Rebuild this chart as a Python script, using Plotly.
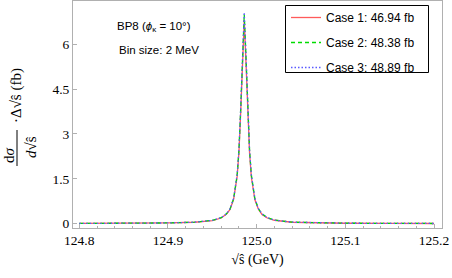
import plotly.graph_objects as go

# sqrt(s-hat) in GeV
x_vals = [124.800, 124.850, 124.900, 124.930, 124.950, 124.960, 124.966, 124.970,
          124.974, 124.978, 124.980, 124.982, 124.984, 124.986, 124.988, 124.990,
          124.992, 124.994, 124.998, 125.002, 125.006, 125.012, 125.020, 125.040,
          125.070, 125.100, 125.150, 125.200]

case1 = [0.008, 0.011, 0.024, 0.048, 0.105, 0.19, 0.32, 0.48, 0.81, 1.58, 2.38, 3.72,
         5.38, 6.80, 5.36, 3.70, 2.36, 1.56, 0.80, 0.48, 0.31, 0.19, 0.115, 0.048,
         0.024, 0.015, 0.010, 0.007]
case2 = [0.008, 0.012, 0.025, 0.050, 0.110, 0.20, 0.33, 0.49, 0.83, 1.62, 2.44, 3.83,
         5.54, 6.99, 5.55, 3.84, 2.45, 1.63, 0.83, 0.50, 0.33, 0.20, 0.12, 0.050,
         0.025, 0.016, 0.010, 0.007]
case3 = [0.008, 0.012, 0.025, 0.050, 0.110, 0.20, 0.33, 0.50, 0.84, 1.64, 2.47, 3.87,
         5.60, 7.06, 5.60, 3.87, 2.47, 1.64, 0.84, 0.50, 0.33, 0.20, 0.12, 0.050,
         0.025, 0.016, 0.010, 0.007]

names = ["Case 1: 46.94 fb", "Case 2: 48.38 fb", "Case 3: 48.89 fb"]
colors = ["rgb(255,90,90)", "rgb(0,220,0)", "rgb(90,90,255)"]
dashes = ["solid", "4px,3px", "1.5px,2px"]
x_ticks = [124.8, 124.9, 125.0, 125.1, 125.2]
x_ticklabels = ["124.8", "124.9", "125.0", "125.1", "125.2"]
y_ticks = [0, 1.5, 3, 4.5, 6]
y_ticklabels = ["0", "1.5", "3", "4.5", "6"]

W, H = 452, 278
L, R, T, B = 73, 10, 1, 50
pw, ph = W - L - R, H - T - B

def px(xp):
    return (xp - L) / pw

def py(yp):
    return (H - B - yp) / ph

fig = go.Figure()
for i, (ys, nm, c, d) in enumerate(zip([case1, case2, case3], names, colors, dashes)):
    fig.add_trace(go.Scatter(x=x_vals, y=ys, mode="lines", name=nm, legendgroup=f"g{i}",
                             line=dict(color=c, width=1.3, dash=d)))

serif = "Liberation Serif"
sans = "Liberation Sans"
axcol = "#b0b0b0"

fig.update_layout(
    width=W, height=H,
    margin=dict(l=L, r=R, t=T, b=B),
    paper_bgcolor="white", plot_bgcolor="white",
    showlegend=True,
    legend=dict(x=px(286), y=py(3), xanchor="left", yanchor="top",
                borderwidth=0, bgcolor="rgba(0,0,0,0)",
                font=dict(family=sans, size=12, color="black"),
                tracegroupgap=6),
    xaxis=dict(range=[124.7929, 125.209], showgrid=False, zeroline=False,
               showline=True, linecolor=axcol, linewidth=1, mirror=True,
               ticks="inside", ticklen=4, tickcolor=axcol,
               tickvals=x_ticks, ticktext=x_ticklabels,
               tickfont=dict(family=serif, size=13.5, color="black"),
               minor=dict(dtick=0.02, tick0=124.8, ticks="inside", ticklen=2.5, tickcolor=axcol),
               title=dict(text="√ŝ (GeV)", font=dict(family=serif, size=14, color="black"),
                          standoff=6)),
    yaxis=dict(range=[-0.144, 7.44], showgrid=False, zeroline=False,
               showline=True, linecolor=axcol, linewidth=1, mirror=True,
               ticks="inside", ticklen=4, tickcolor=axcol,
               tickvals=y_ticks, ticktext=y_ticklabels,
               tickfont=dict(family=serif, size=13.5, color="black")),
)

annos = [
    dict(text="BP8 (<i>ϕ</i><sub>κ</sub> = 10°)", x=px(115), y=py(27), xanchor="left", yanchor="middle",
         font=dict(family=sans, size=11.5, color="black")),
    dict(text="Bin size: 2 MeV", x=px(117), y=py(50), xanchor="left", yanchor="middle",
         font=dict(family=sans, size=11.5, color="black")),
    dict(text="d<i>σ</i>", x=px(9), y=py(155), textangle=-90, xanchor="center", yanchor="middle",
         font=dict(family=serif, size=15, color="black")),
    dict(text="<i>d</i>√ŝ", x=px(31), y=py(147), textangle=-90, xanchor="center", yanchor="middle",
         font=dict(family=serif, size=15, color="black")),
    dict(text="·Δ√ŝ (fb)", x=px(16), y=py(96), textangle=-90, xanchor="center", yanchor="middle",
         font=dict(family=serif, size=15, color="black")),
]
for a in annos:
    fig.add_annotation(xref="paper", yref="paper", showarrow=False, **a)

fig.add_shape(type="line", xref="paper", yref="paper", x0=px(17), x1=px(17),
              y0=py(130), y1=py(166), line=dict(color="black", width=1))
# legend frame
fig.add_shape(type="rect", xref="paper", yref="paper", x0=px(285.5), x1=px(428.5),
              y0=py(72.5), y1=py(5.5), line=dict(color="black", width=1),
              fillcolor="white", layer="above")

fig.write_html("out.html", config={"displayModeBar": False},
               post_script="document.body.style.margin='0';document.body.style.padding='0';")
